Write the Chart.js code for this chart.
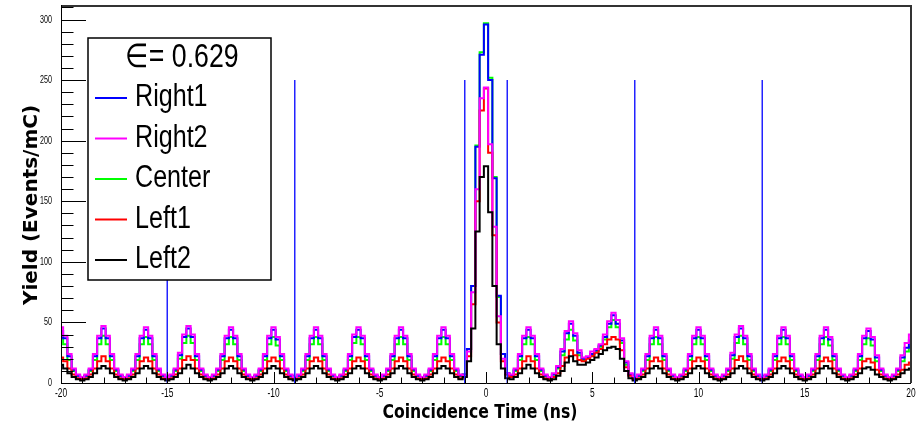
<!DOCTYPE html>
<html>
<head>
<meta charset="utf-8">
<script src="https://cdn.jsdelivr.net/npm/chart.js@4.4.1/dist/chart.umd.min.js"></script>
<style>
  html, body { margin: 0; padding: 0; background: #fff; }
  #wrap { width: 919px; height: 426px; }
</style>
</head>
<body>
<div id="wrap"><canvas id="myChart"></canvas></div>
<script>
// histogram binning: 0.2 ns bins centred on the even ns bunches
const binStart = -20.1;
const binWidth = 0.2;

const seriesNames = ['Right1', 'Right2', 'Center', 'Left1', 'Left2'];
const seriesColors = ['#0000ff', '#ff00ff', '#00ff00', '#ff0000', '#000000'];

// one row per bunch, starting at the bunch centre (-20, -18, ... 18), then the bin at 20
const right1 = [
  43, 37, 22, 11, 6, 4, 6, 11, 22, 37,
  45, 37, 22, 11, 6, 4, 6, 11, 22, 37,
  44, 37, 22, 11, 6, 4, 6, 11, 23, 38,
  45, 38, 22, 11, 6, 4, 6, 11, 22, 37,
  44, 37, 22, 11, 6, 4, 6, 11, 22, 37,
  44, 36, 22, 11, 6, 4, 6, 11, 22, 37,
  44, 37, 22, 11, 6, 4, 6, 11, 22, 38,
  44, 37, 22, 11, 6, 4, 6, 11, 22, 37,
  44, 37, 22, 11, 6, 4, 6, 11, 22, 37,
  44, 37, 22, 11, 6, 7, 28, 80, 195, 271,
  296, 250, 169, 72, 24, 8, 6, 11, 22, 37,
  44, 37, 22, 11, 6, 4, 7, 13, 26, 41,
  49, 39, 25, 20, 21, 24, 27, 31, 38, 49,
  56, 49, 35, 17, 7, 4, 6, 11, 22, 37,
  44, 37, 22, 11, 6, 4, 6, 11, 22, 37,
  44, 37, 22, 11, 6, 4, 6, 11, 23, 38,
  45, 37, 22, 11, 6, 4, 6, 11, 22, 37,
  44, 37, 22, 11, 6, 4, 6, 11, 22, 37,
  44, 36, 22, 11, 6, 4, 6, 11, 22, 37,
  43, 36, 21, 11, 6, 4, 6, 11, 21, 29,
  35
];

const right2 = [
  46, 39, 24, 12, 7, 5, 7, 12, 24, 39,
  47, 39, 24, 12, 7, 5, 7, 12, 24, 39,
  46, 39, 24, 12, 7, 5, 7, 12, 25, 40,
  47, 40, 24, 12, 7, 5, 7, 12, 24, 39,
  46, 39, 24, 12, 7, 5, 7, 12, 24, 39,
  46, 38, 24, 12, 7, 5, 7, 12, 24, 39,
  46, 39, 24, 12, 7, 5, 7, 12, 24, 40,
  46, 39, 24, 12, 7, 5, 7, 12, 24, 39,
  46, 39, 24, 12, 7, 5, 7, 12, 24, 39,
  46, 39, 24, 12, 7, 6, 26, 75, 160, 235,
  244, 197, 129, 55, 20, 8, 7, 12, 24, 39,
  46, 39, 24, 12, 7, 5, 8, 14, 28, 43,
  51, 41, 27, 21, 22, 26, 28, 32, 40, 51,
  58, 52, 37, 18, 8, 5, 7, 12, 24, 39,
  46, 39, 24, 12, 7, 5, 7, 12, 24, 39,
  46, 39, 24, 12, 7, 5, 7, 12, 25, 40,
  47, 39, 24, 12, 7, 5, 7, 12, 24, 39,
  46, 39, 24, 12, 7, 5, 7, 12, 24, 39,
  46, 38, 24, 12, 7, 5, 7, 12, 24, 39,
  45, 38, 23, 12, 7, 5, 7, 12, 23, 33,
  40
];

const center = [
  38, 32, 19, 10, 6, 4, 6, 10, 19, 32,
  39, 32, 19, 10, 6, 4, 6, 10, 19, 32,
  38, 32, 19, 10, 6, 4, 6, 10, 20, 33,
  39, 33, 19, 10, 6, 4, 6, 10, 19, 32,
  38, 32, 19, 10, 6, 4, 6, 10, 19, 32,
  38, 31, 19, 10, 6, 4, 6, 10, 19, 32,
  38, 32, 19, 10, 6, 4, 6, 10, 19, 33,
  38, 32, 19, 10, 6, 4, 6, 10, 19, 32,
  38, 32, 19, 10, 6, 4, 6, 10, 19, 32,
  38, 32, 19, 10, 6, 7, 28, 80, 196, 273,
  297, 252, 170, 71, 24, 8, 6, 10, 19, 32,
  38, 32, 19, 10, 6, 4, 7, 12, 23, 36,
  44, 35, 23, 19, 21, 23, 26, 30, 36, 46,
  52, 46, 33, 15, 7, 4, 6, 10, 19, 32,
  38, 32, 19, 10, 6, 4, 6, 10, 19, 32,
  38, 32, 19, 10, 6, 4, 6, 10, 20, 33,
  39, 32, 19, 10, 6, 4, 6, 10, 19, 32,
  38, 32, 19, 10, 6, 4, 6, 10, 19, 32,
  38, 31, 19, 10, 6, 4, 6, 10, 19, 32,
  37, 31, 18, 10, 6, 4, 6, 10, 18, 26,
  30
];

const left1 = [
  21, 18, 12, 7, 4, 3, 4, 7, 12, 18,
  22, 18, 12, 7, 4, 3, 4, 7, 12, 18,
  21, 18, 12, 7, 4, 3, 4, 7, 12, 19,
  22, 19, 12, 7, 4, 3, 4, 7, 12, 18,
  21, 18, 12, 7, 4, 3, 4, 7, 12, 18,
  21, 18, 12, 7, 4, 3, 4, 7, 12, 18,
  21, 18, 12, 7, 4, 3, 4, 7, 12, 18,
  21, 18, 12, 7, 4, 3, 4, 7, 12, 18,
  21, 18, 12, 7, 4, 3, 4, 7, 12, 18,
  21, 18, 12, 7, 4, 6, 22, 65, 150, 225,
  243, 190, 122, 50, 18, 7, 5, 7, 12, 18,
  22, 18, 12, 7, 4, 3, 5, 8, 14, 21,
  27, 23, 19, 18, 20, 22, 25, 28, 32, 36,
  38, 36, 27, 13, 6, 3, 4, 7, 12, 18,
  21, 18, 12, 7, 4, 3, 4, 7, 12, 18,
  21, 18, 12, 7, 4, 3, 4, 7, 12, 19,
  22, 18, 12, 7, 4, 3, 4, 7, 12, 18,
  21, 18, 12, 7, 4, 3, 4, 7, 12, 18,
  21, 18, 12, 7, 4, 3, 4, 7, 12, 18,
  20, 17, 11, 7, 4, 3, 4, 7, 11, 15,
  17
];

const left2 = [
  15, 12, 8, 5, 3, 2, 3, 5, 8, 12,
  14, 12, 8, 5, 3, 2, 3, 5, 8, 12,
  14, 12, 8, 5, 3, 2, 3, 5, 8, 12,
  15, 12, 8, 5, 3, 2, 3, 5, 8, 12,
  14, 12, 8, 5, 3, 2, 3, 5, 8, 12,
  14, 12, 8, 5, 3, 2, 3, 5, 8, 12,
  14, 12, 8, 5, 3, 2, 3, 5, 8, 12,
  14, 12, 8, 5, 3, 2, 3, 5, 8, 12,
  14, 12, 8, 5, 3, 2, 3, 5, 8, 12,
  14, 12, 8, 5, 3, 5, 18, 45, 125, 170,
  179, 141, 80, 32, 12, 4, 3, 5, 8, 12,
  15, 12, 8, 5, 3, 2, 3, 6, 10, 17,
  22, 18, 15, 15, 17, 19, 21, 24, 27, 29,
  30, 28, 20, 10, 4, 2, 3, 5, 8, 12,
  14, 12, 8, 5, 3, 2, 3, 5, 8, 12,
  14, 12, 8, 5, 3, 2, 3, 5, 8, 12,
  14, 12, 8, 5, 3, 2, 3, 5, 8, 12,
  14, 12, 8, 5, 3, 2, 3, 5, 8, 12,
  14, 12, 8, 5, 3, 2, 3, 5, 8, 12,
  13, 11, 7, 5, 3, 2, 3, 5, 8, 11,
  12
];

// vertical cut markers
const cutPositions = [-15, -9, -1, 1, 7, 13];
const cutHeight = 250;

const xTickValues = [-20, -15, -10, -5, 0, 5, 10, 15, 20];
const xTickLabels = ['-20', '-15', '-10', '-5', '0', '5', '10', '15', '20'];
const yTickValues = [0, 50, 100, 150, 200, 250, 300];
const yTickLabels = ['0', '50', '100', '150', '200', '250', '300'];

const legendTitle = '\u2208= 0.629';
const xTitle = 'Coincidence Time (ns)';
const yTitle = 'Yield (Events/mC)';

function toPoints(values) {
  const pts = values.map((v, i) => ({ x: binStart + i * binWidth, y: v }));
  pts.push({ x: binStart + values.length * binWidth, y: values[values.length - 1] });
  return pts;
}

function cutPoints() {
  const pts = [];
  cutPositions.forEach(p => {
    pts.push({ x: p, y: 0 }, { x: p, y: cutHeight }, { x: p, y: null });
  });
  return pts;
}

const allSeries = [right1, right2, center, left1, left2];
// draw order: Left2 on top, then Right2, Left1, Right1, Center at the bottom
const drawOrder = [3, 1, 4, 2, 0];

const datasets = allSeries.map((vals, i) => ({
  label: seriesNames[i],
  data: toPoints(vals),
  borderColor: seriesColors[i],
  backgroundColor: seriesColors[i],
  borderWidth: 2,
  pointRadius: 0,
  showLine: true,
  stepped: true,
  fill: false,
  clip: 0,
  order: drawOrder[i]
}));

datasets.push({
  label: 'cuts',
  data: cutPoints(),
  borderColor: '#2323ff',
  borderWidth: 1.5,
  pointRadius: 0,
  showLine: true,
  spanGaps: false,
  fill: false,
  order: -1
});

function squeezeText(ctx, text, x, y, sx, align) {
  ctx.save();
  ctx.translate(x, y);
  ctx.scale(sx, 1);
  ctx.textAlign = align;
  ctx.fillText(text, 0, 0);
  ctx.restore();
}

const rootStyle = {
  id: 'rootStyle',
  afterDatasetsDraw(chart) {
    const { ctx, chartArea: a, scales } = chart;
    const xs = scales.x, ys = scales.y;
    ctx.save();

    // ticks inside the frame
    ctx.strokeStyle = '#000';
    ctx.lineWidth = 1;
    ctx.beginPath();
    for (let v = ys.min; v <= ys.max; v += 10) {
      const py = Math.round(ys.getPixelForValue(v)) + 0.5;
      const len = v % 50 === 0 ? 25 : 12.5;
      ctx.moveTo(a.left, py);
      ctx.lineTo(a.left + len, py);
    }
    for (let v = xs.min; v <= xs.max; v += 1) {
      const px = Math.round(xs.getPixelForValue(v)) + 0.5;
      const len = v % 5 === 0 ? 11 : 5.5;
      ctx.moveTo(px, a.bottom);
      ctx.lineTo(px, a.bottom - len);
    }
    ctx.stroke();

    // frame
    ctx.strokeStyle = '#333';
    ctx.lineWidth = 2;
    ctx.beginPath();
    ctx.moveTo(a.left, a.top + 1);
    ctx.lineTo(a.right, a.top + 1);
    ctx.lineTo(a.right, a.bottom);
    ctx.stroke();
    ctx.strokeStyle = '#000';
    ctx.lineWidth = 1;
    ctx.beginPath();
    ctx.moveTo(a.left + 0.5, a.top);
    ctx.lineTo(a.left + 0.5, a.bottom + 0.5);
    ctx.lineTo(a.right, a.bottom + 0.5);
    ctx.stroke();

    // legend box
    const bx = 88, by = 38, bw = 183, bh = 242;
    ctx.fillStyle = '#fff';
    ctx.fillRect(bx, by, bw, bh);
    ctx.strokeStyle = '#000';
    ctx.lineWidth = 1.5;
    ctx.strokeRect(bx, by, bw, bh);

    ctx.fillStyle = '#000';
    ctx.textBaseline = 'alphabetic';
    ctx.font = '33px "Liberation Sans", Arial, sans-serif';
    squeezeText(ctx, legendTitle, 182, 67, 0.81, 'center');

    ctx.font = '31px "Liberation Sans", Arial, sans-serif';
    seriesNames.forEach((name, i) => {
      const base = 106 + 40.5 * i;
      ctx.strokeStyle = seriesColors[i];
      ctx.lineWidth = 2;
      ctx.beginPath();
      ctx.moveTo(95, base - 8);
      ctx.lineTo(127, base - 8);
      ctx.stroke();
      ctx.fillStyle = '#000';
      squeezeText(ctx, name, 135, base, 0.81, 'left');
    });

    // tick labels
    ctx.fillStyle = '#000';
    ctx.font = '12px "Liberation Sans", Arial, sans-serif';
    ctx.textBaseline = 'alphabetic';
    xTickValues.forEach((v, i) => {
      squeezeText(ctx, xTickLabels[i], xs.getPixelForValue(v), 397, 0.7, 'center');
    });
    ctx.font = '11px "Liberation Sans", Arial, sans-serif';
    ctx.textBaseline = 'middle';
    yTickValues.forEach((v, i) => {
      squeezeText(ctx, yTickLabels[i], 52, ys.getPixelForValue(v), 0.65, 'right');
    });

    // axis titles
    ctx.textBaseline = 'alphabetic';
    ctx.font = 'bold 19px "DejaVu Sans", sans-serif';
    const tw = ctx.measureText(xTitle).width;
    squeezeText(ctx, xTitle, 480, 418, 195 / tw, 'center');

    ctx.font = 'bold 20px "DejaVu Sans", sans-serif';
    ctx.save();
    ctx.translate(37, 205);
    ctx.rotate(-Math.PI / 2);
    ctx.textAlign = 'center';
    ctx.fillText(yTitle, 0, 0);
    ctx.restore();

    ctx.restore();
  }
};

const ctx = document.getElementById('myChart').getContext('2d');
const myChart = new Chart(ctx, {
  type: 'scatter',
  data: { datasets: datasets },
  options: {
    responsive: true,
    maintainAspectRatio: false,
    animation: false,
    devicePixelRatio: 1,
    layout: { padding: { top: 5, right: 8, left: 0, bottom: 0 } },
    scales: {
      x: {
        type: 'linear',
        min: -20,
        max: 20,
        ticks: { display: false },
        grid: { display: false },
        border: { display: false },
        afterFit: s => { s.height = 43; }
      },
      y: {
        min: 0,
        max: 312,
        ticks: { display: false },
        grid: { display: false },
        border: { display: false },
        afterFit: s => { s.width = 61; }
      }
    },
    plugins: {
      legend: { display: false },
      tooltip: { enabled: false }
    }
  },
  plugins: [rootStyle]
});
</script>
</body>
</html>
